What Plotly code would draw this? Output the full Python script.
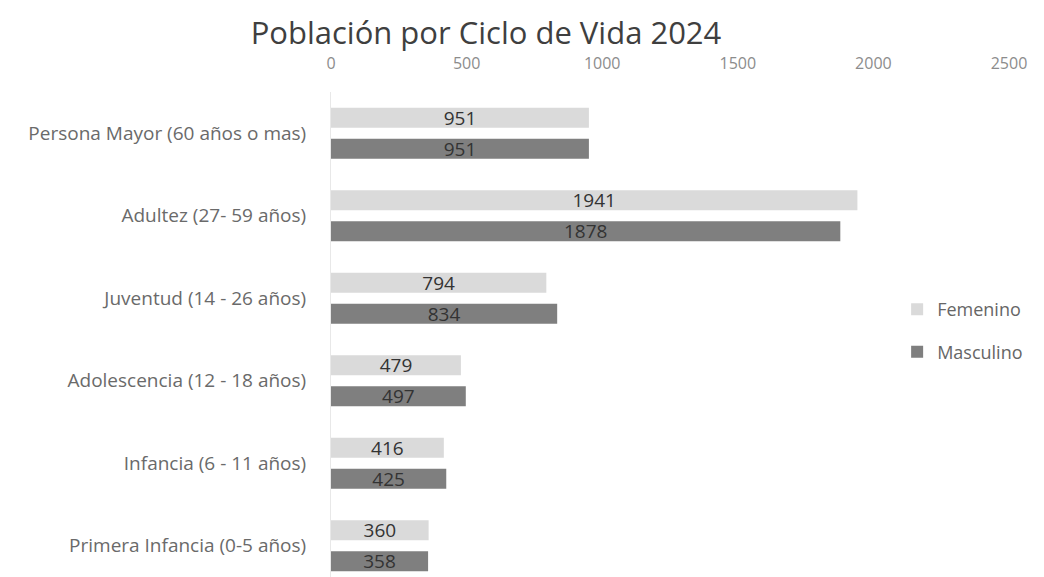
import plotly.graph_objects as go

categories = [
    "Persona Mayor (60 años o mas)",
    "Adultez (27- 59 años)",
    "Juventud (14 - 26 años)",
    "Adolescencia (12 - 18 años)",
    "Infancia (6 - 11 años)",
    "Primera Infancia (0-5 años)",
]
femenino = [951, 1941, 794, 479, 416, 360]
masculino = [951, 1878, 834, 497, 425, 358]
x_ticks = [0, 500, 1000, 1500, 2000, 2500]

FONT = "Open Sans, sans-serif"

fig = go.Figure()
fig.add_trace(go.Bar(
    y=categories, x=femenino, name="Femenino", orientation="h",
    marker=dict(color="#dadada", line=dict(width=0)),
    text=femenino, textposition="inside", insidetextanchor="middle",
    constraintext="none",
    textfont=dict(size=19, color="#333333", family=FONT),
    legendgroup="f",
))
fig.add_trace(go.Bar(
    y=categories, x=masculino, name="Masculino", orientation="h",
    marker=dict(color="#7f7f7f", line=dict(width=0)),
    text=masculino, textposition="inside", insidetextanchor="middle",
    constraintext="none",
    textfont=dict(size=19, color="#333333", family=FONT),
    legendgroup="m",
))

fig.update_layout(
    width=1044, height=577,
    paper_bgcolor="white", plot_bgcolor="white",
    margin=dict(l=323, r=43, t=84, b=0),
    barmode="group", bargap=0.25, bargroupgap=0.355,
    font=dict(family=FONT, color="#595959"),
    title=dict(
        text="Población por Ciclo de Vida 2024",
        x=478 / 1044, xref="container", xanchor="center",
        y=1 - 25 / 577, yref="container", yanchor="middle",
        font=dict(size=31, color="#3f3f3f", family=FONT),
    ),
    xaxis=dict(
        side="top", range=[0, 2500], tickvals=x_ticks,
        showgrid=False, zeroline=False, showline=False,
        tickfont=dict(size=16, color="#8c8c8c"),
        ticks="", ticklabelstandoff=19, fixedrange=True,
    ),
    yaxis=dict(
        categoryorder="array", categoryarray=categories,
        range=[5.476, -0.5],
        showgrid=False, zeroline=False,
        showline=True, linecolor="#e8e8e8", linewidth=1,
        tickfont=dict(size=19, color="#6a6a6a"),
        ticks="", ticklabelstandoff=20,
    ),
    legend=dict(
        x=0.835, y=0.596, xref="paper", yref="paper",
        xanchor="left", yanchor="top",
        font=dict(size=18, color="#666666"),
        traceorder="grouped", tracegroupgap=16,
        itemwidth=30, bgcolor="rgba(0,0,0,0)",
    ),
)

fig.write_html("out.html")
